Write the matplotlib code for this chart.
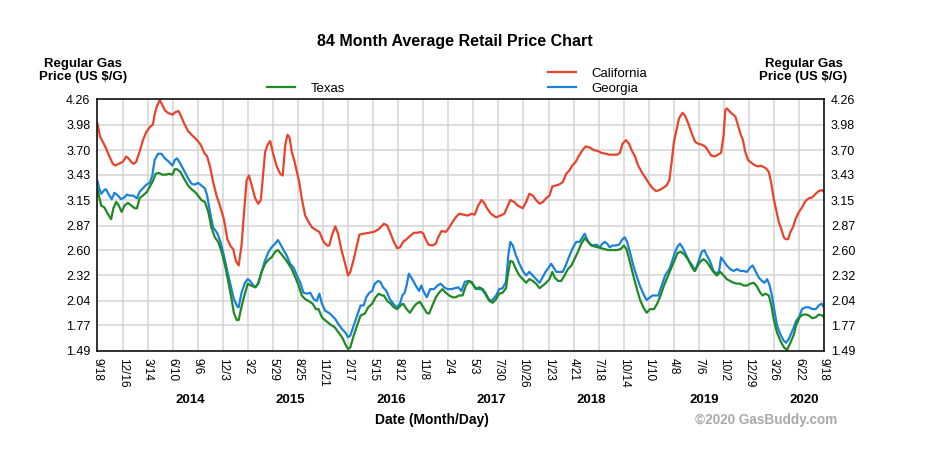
import numpy as np
import pandas as pd
import matplotlib
matplotlib.use('Agg')
import matplotlib.pyplot as plt
from matplotlib.transforms import blended_transform_factory

plt.rcParams['font.family'] = ['Liberation Sans', 'DejaVu Sans']

start = pd.Timestamp('2013-09-18')

tick_dates = ['2013-09-18', '2013-12-16', '2014-03-14', '2014-06-10', '2014-09-06',
              '2014-12-03', '2015-03-02', '2015-05-29', '2015-08-25', '2015-11-21',
              '2016-02-17', '2016-05-15', '2016-08-12', '2016-11-08', '2017-02-04',
              '2017-05-03', '2017-07-30', '2017-10-26', '2018-01-23', '2018-04-21',
              '2018-07-18', '2018-10-14', '2019-01-10', '2019-04-08', '2019-07-06',
              '2019-10-02', '2019-12-29', '2020-03-26', '2020-06-22', '2020-09-18']
years = [2014, 2015, 2016, 2017, 2018, 2019, 2020]
price_ticks = [1.49, 1.77, 2.04, 2.32, 2.60, 2.87, 3.15, 3.43, 3.70, 3.98, 4.26]

# days since 9/18/2013, price in US $/G
ca_day = [0, 9, 19, 30, 42, 54, 63, 75, 89, 101, 109, 119, 127, 136, 148, 160, 172, 186, 195, 201,
          209, 219, 228, 237, 248, 264, 275, 285, 292, 304, 319, 334, 351, 363, 376, 386, 396, 407, 419, 431,
          445, 457, 469, 478, 487, 497,
          507, 517, 525, 533, 543, 555, 566, 575, 584, 590, 599, 608, 619, 631, 643, 652, 661, 669, 676, 684,
          694, 702, 710, 719, 731, 743, 755, 769, 781, 796, 808, 816, 825, 837, 847, 858, 870, 882, 890, 902,
          910, 922, 937, 955, 973, 990,
          1008, 1020, 1032, 1043, 1055, 1065, 1076, 1088, 1102, 1114, 1126, 1138, 1147, 1155, 1165, 1179,
          1191, 1199, 1211, 1226, 1234, 1250, 1261, 1273, 1288, 1303, 1317, 1328, 1340, 1352, 1361, 1371,
          1385, 1403, 1418, 1432, 1442, 1453, 1467, 1479, 1497, 1509,
          1520, 1532, 1544, 1556, 1568, 1579, 1591, 1601, 1612, 1624, 1638, 1650, 1662, 1671, 1683, 1695,
          1707, 1718, 1732, 1747, 1762, 1774, 1789, 1801, 1815, 1829, 1839, 1848, 1860, 1871, 1880, 1892,
          1903, 1919, 1930, 1942, 1954, 1966, 1978, 1989, 2003, 2013, 2021, 2029,
          2047, 2059, 2068, 2080, 2092, 2104, 2115, 2127, 2139, 2148, 2160, 2172, 2184, 2195, 2204, 2210,
          2215, 2227, 2245, 2254, 2263, 2272, 2280, 2290, 2298, 2306, 2316, 2325, 2333, 2341, 2353, 2363,
          2372, 2380, 2389, 2398, 2407, 2416, 2422, 2431, 2439, 2448, 2457, 2469, 2480, 2492, 2504, 2516,
          2528, 2539, 2551, 2557]
ca_price = [3.99, 3.85, 3.79, 3.72, 3.63, 3.55, 3.53, 3.55, 3.57, 3.63, 3.61, 3.57, 3.55, 3.57, 3.68, 3.81,
            3.90, 3.96, 3.98, 4.09, 4.18, 4.25, 4.20, 4.14, 4.11, 4.09, 4.12, 4.13, 4.09, 4.00, 3.91, 3.86,
            3.81, 3.76, 3.67, 3.63, 3.52, 3.35, 3.20, 3.09, 2.94, 2.72, 2.64, 2.61, 2.48, 2.43,
            2.65, 3.06, 3.37, 3.42, 3.31, 3.17, 3.11, 3.15, 3.46, 3.68, 3.76, 3.80, 3.65, 3.52, 3.44, 3.42,
            3.76, 3.87, 3.84, 3.68, 3.57, 3.46, 3.35, 3.17, 2.98, 2.91, 2.85, 2.82, 2.80, 2.69, 2.65, 2.65,
            2.76, 2.86, 2.78, 2.61, 2.47, 2.32, 2.36, 2.50, 2.61, 2.77, 2.78, 2.79, 2.80, 2.83,
            2.89, 2.87, 2.78, 2.69, 2.62, 2.63, 2.69, 2.72, 2.76, 2.79, 2.79, 2.80, 2.78, 2.72, 2.66, 2.65,
            2.67, 2.74, 2.81, 2.80, 2.83, 2.91, 2.96, 3.00, 2.99, 2.98, 3.00, 2.99, 3.09, 3.15, 3.12, 3.06,
            3.00, 2.96, 2.98, 3.00, 3.07, 3.15, 3.13, 3.09, 3.06, 3.13,
            3.22, 3.20, 3.15, 3.11, 3.13, 3.17, 3.20, 3.30, 3.31, 3.32, 3.35, 3.44, 3.48, 3.53, 3.57, 3.64,
            3.70, 3.74, 3.73, 3.70, 3.69, 3.67, 3.66, 3.65, 3.65, 3.65, 3.67, 3.77, 3.81, 3.77, 3.70, 3.63,
            3.53, 3.44, 3.39, 3.33, 3.28, 3.25, 3.26, 3.28, 3.31, 3.37, 3.57, 3.79,
            4.05, 4.11, 4.08, 3.99, 3.88, 3.79, 3.77, 3.76, 3.74, 3.70, 3.64, 3.63, 3.65, 3.67, 3.87, 4.14,
            4.16, 4.12, 4.07, 3.98, 3.88, 3.81, 3.68, 3.59, 3.57, 3.55, 3.53, 3.52, 3.53, 3.52, 3.50, 3.46,
            3.33, 3.17, 3.04, 2.91, 2.83, 2.74, 2.72, 2.72, 2.80, 2.85, 2.94, 3.02, 3.07, 3.14, 3.17, 3.18,
            3.22, 3.25, 3.26, 3.24]

ga_day = [0, 6, 13, 24, 30, 40, 50, 60, 72, 83, 95, 103, 113, 125, 139, 148, 160, 172, 184, 193,
          201, 213, 225, 237, 252, 264, 272, 280, 292, 304, 319, 331, 343, 354, 366, 378, 386, 396, 407, 421,
          433, 445, 457, 469, 480, 492, 497,
          507, 519, 529, 537, 549, 557, 566, 576, 588, 602, 613, 625, 635, 643, 655, 666, 678, 690, 702, 714,
          725, 737, 749, 761, 772, 781, 790, 802, 814, 825, 837, 849, 861, 873, 882, 890, 902, 914, 926, 937,
          946, 957, 967, 976, 988, 996, 1005,
          1017, 1029, 1041, 1053, 1065, 1073, 1081, 1088, 1096, 1108, 1120, 1132, 1140, 1147, 1159, 1171,
          1185, 1197, 1208, 1220, 1232, 1246, 1258, 1270, 1281, 1293, 1305, 1317, 1328, 1340, 1352, 1364,
          1376, 1387, 1403, 1414, 1426, 1438, 1446, 1453, 1462, 1473, 1485, 1497, 1509, 1517,
          1520, 1532, 1544, 1556, 1565, 1577, 1589, 1597, 1605, 1615, 1626, 1638, 1648, 1659, 1671, 1685,
          1697, 1707, 1715, 1723, 1732, 1744, 1756, 1768, 1777, 1786, 1794, 1803, 1813, 1824, 1836, 1848,
          1856, 1864, 1874, 1886, 1897, 1909, 1921, 1933, 1945, 1954, 1966, 1974, 1986, 1998, 2013, 2025, 2033,
          2042, 2050, 2059, 2070, 2082, 2094, 2104, 2115, 2127, 2136, 2145, 2157, 2168, 2180, 2188, 2195,
          2204, 2215, 2227, 2239, 2251, 2263, 2274, 2286, 2298, 2306, 2316, 2327, 2339, 2348, 2357, 2365,
          2374, 2384, 2392, 2404, 2416, 2424, 2433, 2443, 2451, 2459, 2469, 2480, 2492, 2504, 2516, 2528,
          2539, 2549, 2557]
ga_price = [3.36, 3.28, 3.22, 3.26, 3.27, 3.21, 3.16, 3.23, 3.20, 3.16, 3.18, 3.21, 3.20, 3.20, 3.17, 3.24,
            3.28, 3.32, 3.34, 3.42, 3.59, 3.66, 3.66, 3.61, 3.57, 3.53, 3.59, 3.61, 3.55, 3.48, 3.39, 3.33,
            3.32, 3.34, 3.31, 3.28, 3.20, 3.02, 2.85, 2.79, 2.69, 2.54, 2.37, 2.21, 2.06, 1.98, 1.97,
            2.13, 2.24, 2.28, 2.26, 2.21, 2.19, 2.24, 2.34, 2.47, 2.58, 2.63, 2.67, 2.71, 2.67, 2.60, 2.54,
            2.45, 2.41, 2.32, 2.24, 2.13, 2.12, 2.13, 2.06, 2.04, 2.12, 2.01, 1.93, 1.91, 1.88, 1.84, 1.78,
            1.73, 1.69, 1.64, 1.66, 1.77, 1.88, 1.99, 1.99, 2.08, 2.13, 2.15, 2.23, 2.26, 2.25, 2.19,
            2.15, 2.06, 2.01, 1.97, 2.01, 2.10, 2.13, 2.21, 2.34, 2.28, 2.21, 2.15, 2.21, 2.15, 2.08, 2.17,
            2.17, 2.21, 2.23, 2.19, 2.17, 2.17, 2.18, 2.19, 2.15, 2.25, 2.26, 2.25, 2.19, 2.17, 2.17, 2.12,
            2.06, 2.04, 2.10, 2.17, 2.18, 2.25, 2.54, 2.69, 2.65, 2.54, 2.45, 2.37, 2.32, 2.35,
            2.36, 2.32, 2.28, 2.24, 2.29, 2.36, 2.41, 2.45, 2.41, 2.36, 2.36, 2.36, 2.43, 2.52, 2.61, 2.69,
            2.69, 2.74, 2.78, 2.72, 2.67, 2.65, 2.66, 2.63, 2.67, 2.69, 2.67, 2.63, 2.65, 2.65, 2.66, 2.72,
            2.74, 2.69, 2.58, 2.43, 2.32, 2.21, 2.12, 2.05, 2.08, 2.10, 2.10, 2.10, 2.21, 2.32, 2.39, 2.50, 2.58,
            2.64, 2.67, 2.63, 2.56, 2.48, 2.43, 2.37, 2.47, 2.58, 2.60, 2.54, 2.47, 2.37, 2.34, 2.37, 2.52,
            2.48, 2.43, 2.39, 2.37, 2.39, 2.37, 2.37, 2.36, 2.41, 2.43, 2.37, 2.30, 2.26, 2.24, 2.28, 2.22,
            2.10, 1.91, 1.77, 1.67, 1.60, 1.58, 1.62, 1.69, 1.75, 1.82, 1.86, 1.95, 1.97, 1.97, 1.95, 1.95,
            1.99, 2.01, 1.97]

tx_day = [0, 13, 24, 36, 48, 56, 66, 75, 85, 95, 107, 119, 131, 139, 148, 160, 174, 186, 195, 205,
          216, 228, 240, 252, 264, 272, 280, 292, 304, 319, 331, 343, 354, 366, 378, 390, 401, 413, 425, 437,
          449, 460, 472, 480, 490, 497,
          505, 517, 529, 540, 555, 566, 578, 590, 604, 613, 625, 635, 646, 661, 672, 684, 696, 708, 719, 731,
          743, 757, 769, 778, 790, 804, 820, 835, 849, 861, 873, 882, 890, 902, 914, 926, 941, 953, 967, 979,
          990, 1002,
          1008, 1020, 1032, 1043, 1055, 1067, 1076, 1088, 1100, 1112, 1123, 1135, 1147, 1159, 1167, 1179,
          1191, 1202, 1214, 1226, 1238, 1250, 1261, 1273, 1285, 1297, 1308, 1320, 1332, 1344, 1356, 1367,
          1379, 1391, 1403, 1414, 1426, 1438, 1444, 1453, 1462, 1473, 1485, 1497, 1509,
          1520, 1532, 1544, 1556, 1568, 1579, 1591, 1601, 1609, 1621, 1632, 1644, 1656, 1668, 1679, 1691,
          1703, 1715, 1727, 1738, 1750, 1762, 1774, 1786, 1797, 1809, 1827, 1841, 1853, 1862, 1874, 1886,
          1897, 1909, 1921, 1933, 1945, 1959, 1970, 1982, 1994, 2006, 2018, 2029,
          2042, 2054, 2066, 2078, 2089, 2101, 2109, 2121, 2133, 2145, 2157, 2168, 2180, 2192, 2204, 2215,
          2227, 2239, 2251, 2263, 2274, 2286, 2298, 2310, 2321, 2333, 2341, 2351, 2363, 2372, 2380, 2392,
          2404, 2416, 2427, 2439, 2451, 2459, 2471, 2483, 2495, 2504, 2516, 2528, 2539, 2551, 2557]
tx_price = [3.27, 3.09, 3.07, 3.00, 2.94, 3.06, 3.13, 3.09, 3.02, 3.09, 3.12, 3.09, 3.06, 3.06, 3.17, 3.20,
            3.24, 3.31, 3.36, 3.44, 3.45, 3.43, 3.43, 3.44, 3.43, 3.49, 3.49, 3.46, 3.39, 3.31, 3.27, 3.24,
            3.20, 3.15, 3.13, 3.02, 2.85, 2.74, 2.69, 2.58, 2.43, 2.26, 2.06, 1.91, 1.83, 1.83,
            1.95, 2.10, 2.23, 2.21, 2.19, 2.23, 2.36, 2.45, 2.50, 2.52, 2.58, 2.60, 2.56, 2.50, 2.45, 2.39,
            2.30, 2.21, 2.10, 2.06, 2.04, 2.01, 1.95, 1.95, 1.86, 1.82, 1.78, 1.75, 1.69, 1.64, 1.56, 1.51,
            1.53, 1.66, 1.77, 1.88, 1.90, 1.97, 2.01, 2.08, 2.12, 2.10,
            2.10, 2.04, 2.01, 1.97, 1.95, 1.99, 2.01, 1.95, 1.91, 1.97, 2.01, 2.03, 1.97, 1.91, 1.90, 1.99,
            2.08, 2.13, 2.17, 2.13, 2.10, 2.08, 2.08, 2.10, 2.10, 2.21, 2.26, 2.23, 2.17, 2.19, 2.17, 2.12,
            2.04, 2.02, 2.06, 2.12, 2.13, 2.18, 2.32, 2.48, 2.47, 2.39, 2.32, 2.28, 2.24,
            2.28, 2.26, 2.23, 2.18, 2.21, 2.24, 2.28, 2.36, 2.30, 2.26, 2.26, 2.32, 2.39, 2.43, 2.50, 2.58,
            2.67, 2.73, 2.69, 2.65, 2.64, 2.63, 2.62, 2.61, 2.60, 2.60, 2.60, 2.61, 2.65, 2.61, 2.47, 2.32,
            2.19, 2.06, 1.97, 1.91, 1.95, 1.95, 2.01, 2.10, 2.21, 2.30, 2.39, 2.47,
            2.57, 2.58, 2.55, 2.50, 2.43, 2.37, 2.41, 2.47, 2.50, 2.47, 2.41, 2.36, 2.32, 2.36, 2.32, 2.28,
            2.26, 2.24, 2.23, 2.23, 2.21, 2.21, 2.23, 2.24, 2.20, 2.13, 2.10, 2.12, 2.10, 1.99, 1.84, 1.69,
            1.60, 1.53, 1.50, 1.58, 1.67, 1.77, 1.86, 1.89, 1.89, 1.88, 1.85, 1.86, 1.89, 1.88, 1.86]


def to_dates(days):
    return start + pd.to_timedelta(np.array(days), unit='D')


fig = plt.figure(figsize=(9.31, 4.66), dpi=100)
ax = fig.add_axes([0.1047, 0.247, 0.7803, 0.540])

l_ca, = ax.plot(to_dates(ca_day), ca_price, color='#e8432b', lw=1.6)
l_ga, = ax.plot(to_dates(ga_day), ga_price, color='#1a82db', lw=1.6)
l_tx, = ax.plot(to_dates(tx_day), tx_price, color='#1f8a24', lw=1.6)

ticks = pd.to_datetime(tick_dates)
ax.set_xlim(ticks[0], ticks[-1])
ax.set_ylim(price_ticks[0], price_ticks[-1])
ax.set_xticks(ticks)
ax.set_xticklabels([f'{d.month}/{d.day}' for d in ticks], rotation=-90, fontsize=8.5)
ax.set_yticks(price_ticks)
ax.set_yticklabels([f'{v:.2f}' for v in price_ticks], fontsize=9)
ax.tick_params(axis='x', length=0, pad=5)
ax.tick_params(axis='y', length=0, pad=5, labelright=True)
ax.grid(True, color='#d4d4d4', lw=1.1)
ax.set_axisbelow(True)
for s in ax.spines.values():
    s.set_linewidth(1.2)
    s.set_color('#111111')

# year labels under the month/day ticks
year_tr = blended_transform_factory(ax.transData, fig.transFigure)
for y in years:
    ds = ticks[ticks.year == y]
    pos = ds[0] + (ds[-1] - ds[0]) / 2 + pd.Timedelta(days=18)
    ax.text(pos, 0.1416, str(y), transform=year_tr,
            ha='center', va='center', fontsize=9.5, fontweight='bold')

fig.text(454.5 / 931, 1 - 41.7 / 466, '84 Month Average Retail Price Chart',
         ha='center', va='center', fontsize=11.5, fontweight='bold')
for xc in (83 / 931, 803.5 / 931):
    fig.text(xc, 1 - 70.5 / 466, 'Regular Gas\nPrice (US $/G)', ha='center', va='center',
             fontsize=9.5, fontweight='bold', linespacing=1.1)
fig.text(432 / 931, 1 - 420 / 466, 'Date (Month/Day)', ha='center', va='center',
         fontsize=10, fontweight='bold')
fig.text(837 / 931, 1 - 420 / 466, '\u00a92020 GasBuddy.com', ha='right', va='center',
         fontsize=9.8, fontweight='bold', color='#a9a9a9')

fig.legend(handles=[l_tx], labels=['Texas'], loc='center left',
           bbox_to_anchor=(267 / 931, 1 - 88.5 / 466), frameon=False, fontsize=9.5,
           handlelength=2.1, handletextpad=1.2, borderpad=0, borderaxespad=0)
fig.legend(handles=[l_ca, l_ga], labels=['California', 'Georgia'], loc='center left',
           bbox_to_anchor=(548 / 931, 1 - 81 / 466), frameon=False, fontsize=9.5,
           handlelength=2.1, handletextpad=1.2, borderpad=0, borderaxespad=0, labelspacing=0.2)

fig.savefig('out.png', dpi=100)
